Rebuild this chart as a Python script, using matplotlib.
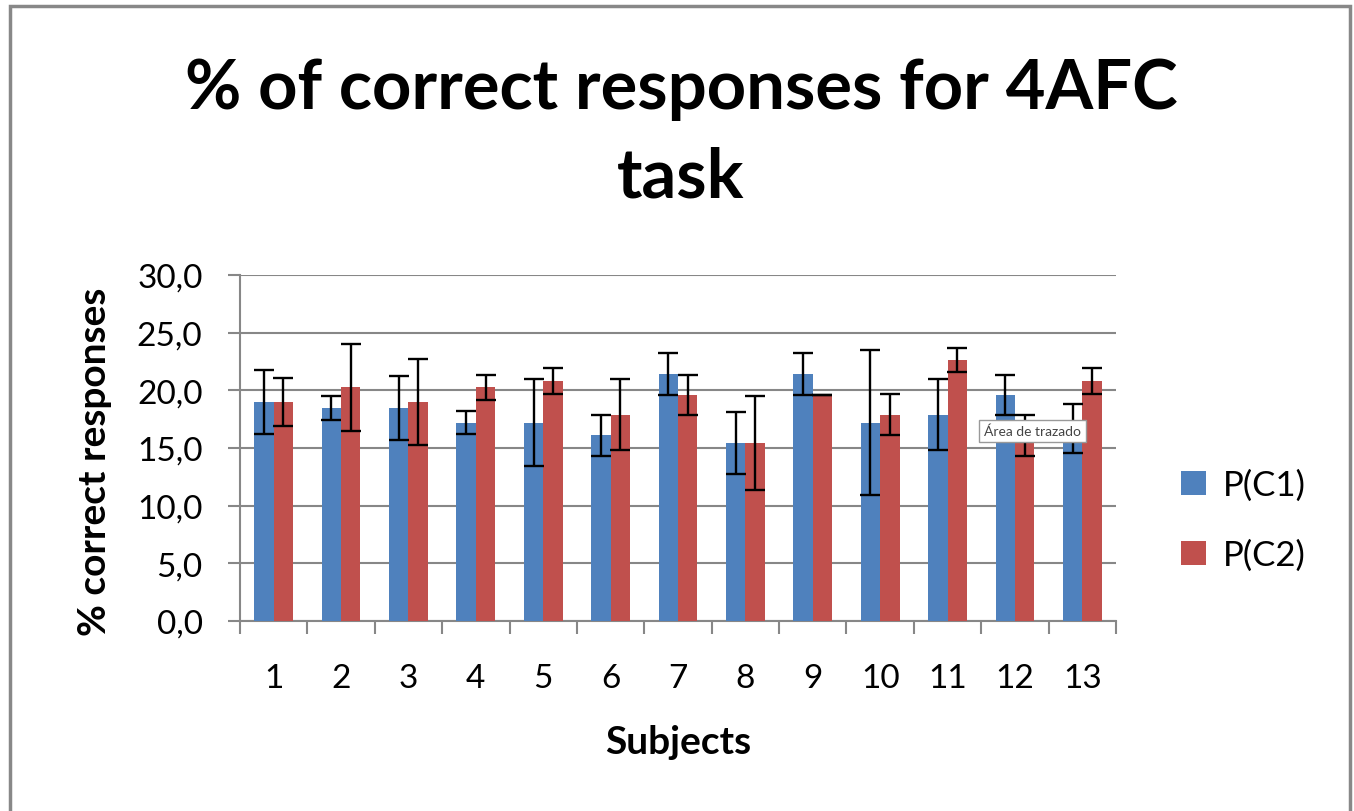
import matplotlib
matplotlib.use("Agg")
import matplotlib.pyplot as plt
from matplotlib.patches import Rectangle
import numpy as np

plt.rcParams["font.family"] = ["Lato", "DejaVu Sans"]

subjects = [str(i) for i in range(1, 14)]
p_c1 = [19.0, 18.45, 18.45, 17.2, 17.2, 16.1, 21.4, 15.45, 21.4, 17.2, 17.9, 19.6, 16.7]
p_c1_err = [2.75, 1.05, 2.75, 1.0, 3.75, 1.8, 1.8, 2.7, 1.8, 6.3, 3.1, 1.75, 2.1]
p_c2 = [19.0, 20.25, 19.0, 20.25, 20.8, 17.9, 19.6, 15.45, 19.6, 17.9, 22.6, 16.1, 20.8]
p_c2_err = [2.05, 3.75, 3.7, 1.05, 1.1, 3.1, 1.75, 4.1, 0.0, 1.75, 1.05, 1.8, 1.1]
yticks = [0, 5, 10, 15, 20, 25, 30]

W, H = 1354, 812
BLUE = "#4F81BD"
RED = "#C0504D"
GRID = "#878787"


def fx(x):
    return x / W


def fy(y):
    return 1 - y / H


fig = plt.figure(figsize=(W / 100, H / 100), dpi=100)

# outer chart frame
fig.patches.append(Rectangle((fx(10), fy(830)), fx(1350) - fx(10), fy(7) - fy(830),
                             transform=fig.transFigure, fill=False,
                             edgecolor="#888888", linewidth=2.5))

ax = fig.add_axes([fx(240), fy(622), fx(1116) - fx(240), fy(276) - fy(622)])

x = np.arange(1, len(subjects) + 1)
bw = 0.288
err_kw = dict(ecolor="black", elinewidth=1.7, capsize=7, capthick=1.7)
ax.bar(x - bw / 2, p_c1, bw, color=BLUE, yerr=p_c1_err, error_kw=err_kw,
       label="P(C1)", zorder=3)
ax.bar(x + bw / 2, p_c2, bw, color=RED, yerr=p_c2_err, error_kw=err_kw,
       label="P(C2)", zorder=3)

ax.set_xlim(0.5, len(subjects) + 0.5)
ax.set_ylim(0, 30)
ax.set_yticks(yticks)
ax.set_yticklabels([f"{v:.1f}".replace(".", ",") for v in yticks])
ax.set_xticks(x)
ax.set_xticklabels(subjects)
ax.set_xticks(np.arange(0.5, len(subjects) + 1, 1), minor=True)

ax.grid(axis="y", color=GRID, linewidth=1.5, zorder=0)
ax.set_axisbelow(True)
for s in ["top", "right"]:
    ax.spines[s].set_visible(False)
for s in ["left", "bottom"]:
    ax.spines[s].set_color(GRID)
    ax.spines[s].set_linewidth(1.5)

ax.tick_params(axis="y", length=9, width=1.5, color=GRID, pad=18, labelsize=24)
ax.tick_params(axis="x", which="major", length=0, pad=30, labelsize=24)
ax.tick_params(axis="x", which="minor", length=9, width=1.5, color=GRID)

fig.text(fx(681), fy(134), "% of correct responses for 4AFC\ntask", ha="center",
         va="center", fontsize=49.5, fontweight="bold", linespacing=1.5)
fig.text(fx(95), fy(462), "% correct responses", rotation=90, ha="center",
         va="center", fontsize=28, fontweight="bold")
fig.text(fx(678), fy(742), "Subjects", ha="center", va="center",
         fontsize=28, fontweight="bold")

fig.legend(loc="center left", bbox_to_anchor=(fx(1150), fy(521)), frameon=False,
           fontsize=25, handlelength=0.7, handleheight=0.7, labelspacing=1.1,
           handletextpad=0.5)

# tooltip in the original screenshot
ax.text(12.26, 16.5, "Área de trazado", ha="center", va="center", fontsize=10,
        color="#444444", zorder=6,
        bbox=dict(boxstyle="square,pad=0.35", facecolor="white",
                  edgecolor="#999999", linewidth=1))

fig.savefig("out.png", dpi=100)
plt.close(fig)
